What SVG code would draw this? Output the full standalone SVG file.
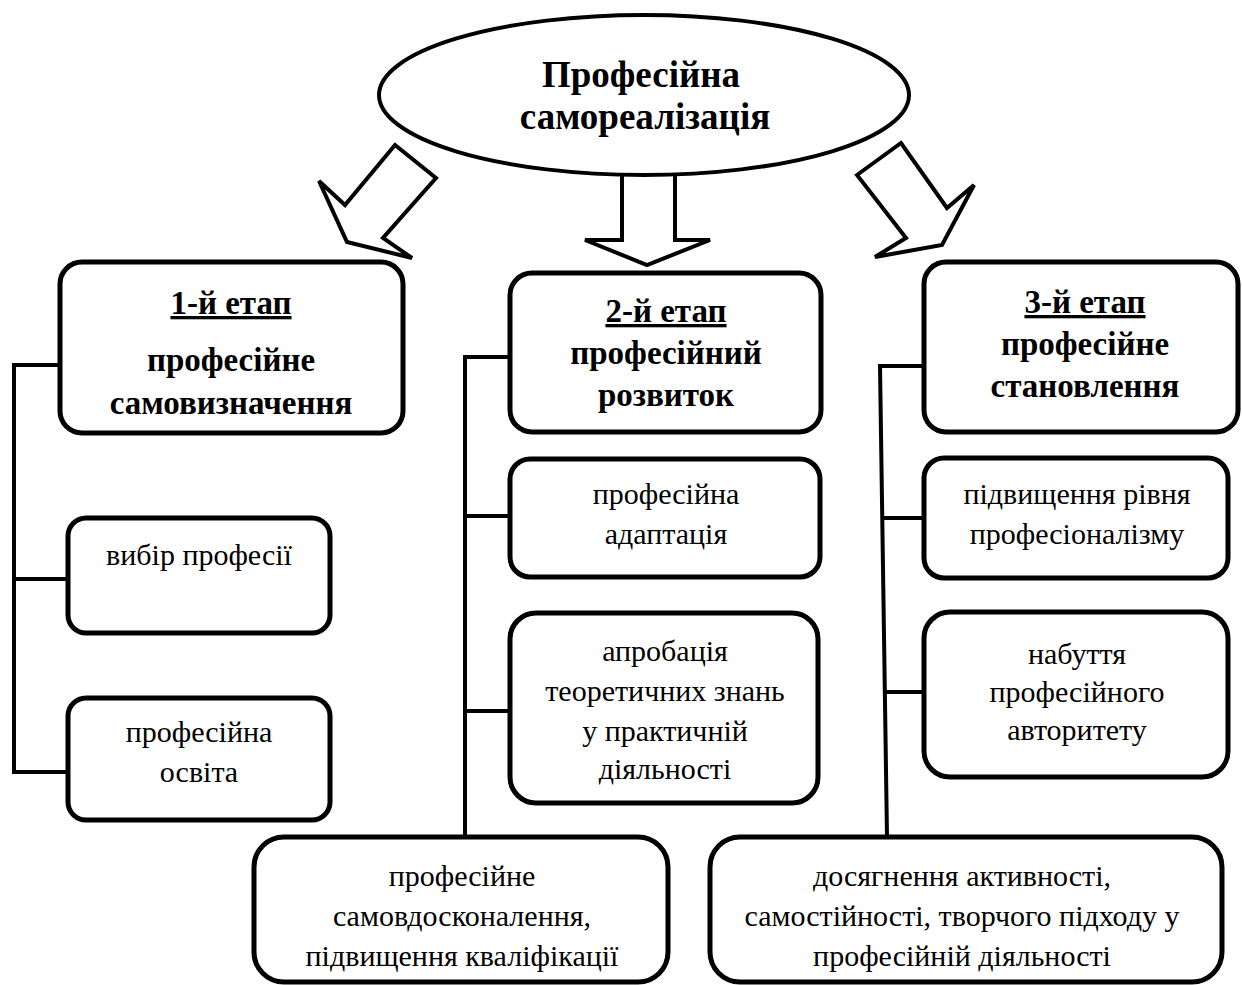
<svg xmlns="http://www.w3.org/2000/svg" width="1242" height="985" viewBox="0 0 1242 985">
<style>
.box{fill:#fff;stroke:#000;stroke-width:5}
.arr{fill:#fff;stroke:#000;stroke-width:4;stroke-linejoin:miter}
.ln{fill:none;stroke:#000;stroke-width:4}
text{font-family:"Liberation Serif","Times New Roman",serif;fill:#000;text-anchor:middle}
.t{font-size:30px}
.h{font-size:33px;font-weight:bold}
.u{text-decoration:underline}
.e{font-size:37px;font-weight:bold}
</style>
<rect width="1242" height="985" fill="#fff"/>
<g id="connectors">
<polygon class="arr" points="395,145 436,178 383,238 412,258 347,242 319,181 345,205"/>
<polygon class="arr" points="622,170 675,170 675,240 710,240 647,265 585,240 622,240"/>
<polygon class="arr" points="857,175 901,143 947,208 974,185 942,245 875,257 906,238"/>
<polyline class="ln" points="60,365 14,365 14,772 68,772"/>
<line class="ln" x1="14" y1="579" x2="68" y2="579"/>
<polyline class="ln" points="510,357 465,357 465,837"/>
<line class="ln" x1="465" y1="516" x2="510" y2="516"/>
<line class="ln" x1="465" y1="711" x2="510" y2="711"/>
<polyline class="ln" points="924,366 880,366 887,837"/>
<line class="ln" x1="884" y1="518" x2="924" y2="518"/>
<line class="ln" x1="886" y1="692" x2="924" y2="692"/>
</g>
<g id="root">
<ellipse cx="644" cy="95" rx="265" ry="80" fill="#fff" stroke="#000" stroke-width="4"/>
<text class="e" x="641" y="87">Професійна</text>
<text class="e" x="645" y="129">самореалізація</text>
</g>
<g id="stage1">
<rect class="box" x="60" y="262" width="343" height="171" rx="22"/>
<text class="h u" x="231" y="314">1-й етап</text>
<text class="h" x="231" y="371">професійне</text>
<text class="h" x="231" y="414">самовизначення</text>
</g>
<g id="choice">
<rect class="box" x="68" y="518" width="262" height="115" rx="18"/>
<text class="t" x="199" y="565">вибір професії</text>
</g>
<g id="education">
<rect class="box" x="68" y="698" width="262" height="122" rx="18"/>
<text class="t" x="199" y="742">професійна</text>
<text class="t" x="199" y="782">освіта</text>
</g>
<g id="stage2">
<rect class="box" x="510" y="273" width="311" height="159" rx="22"/>
<text class="h u" x="666" y="322">2-й етап</text>
<text class="h" x="666" y="364">професійний</text>
<text class="h" x="666" y="406">розвиток</text>
</g>
<g id="adaptation">
<rect class="box" x="510" y="459" width="310" height="118" rx="20"/>
<text class="t" x="666" y="504">професійна</text>
<text class="t" x="666" y="544">адаптація</text>
</g>
<g id="approbation">
<rect class="box" x="510" y="613" width="308" height="190" rx="26"/>
<text class="t" x="665" y="661">апробація</text>
<text class="t" x="665" y="701">теоретичних знань</text>
<text class="t" x="665" y="741">у практичній</text>
<text class="t" x="665" y="779">діяльності</text>
</g>
<g id="stage3">
<rect class="box" x="924" y="262" width="314" height="170" rx="22"/>
<text class="h u" x="1085" y="313">3-й етап</text>
<text class="h" x="1085" y="355">професійне</text>
<text class="h" x="1085" y="397">становлення</text>
</g>
<g id="level">
<rect class="box" x="924" y="458" width="304" height="120" rx="20"/>
<text class="t" x="1077" y="504">підвищення рівня</text>
<text class="t" x="1077" y="544">професіоналізму</text>
</g>
<g id="authority">
<rect class="box" x="924" y="612" width="304" height="165" rx="26"/>
<text class="t" x="1077" y="664">набуття</text>
<text class="t" x="1077" y="702">професійного</text>
<text class="t" x="1077" y="740">авторитету</text>
</g>
<g id="selfimprovement">
<rect class="box" x="254" y="837" width="414" height="145" rx="30"/>
<text class="t" x="462" y="886">професійне</text>
<text class="t" x="462" y="926">самовдосконалення,</text>
<text class="t" x="462" y="966">підвищення кваліфікації</text>
</g>
<g id="achievement">
<rect class="box" x="710" y="837" width="512" height="145" rx="30"/>
<text class="t" x="962" y="886">досягнення активності,</text>
<text class="t" x="962" y="926">самостійності, творчого підходу у</text>
<text class="t" x="962" y="966">професійній діяльності</text>
</g>
</svg>
